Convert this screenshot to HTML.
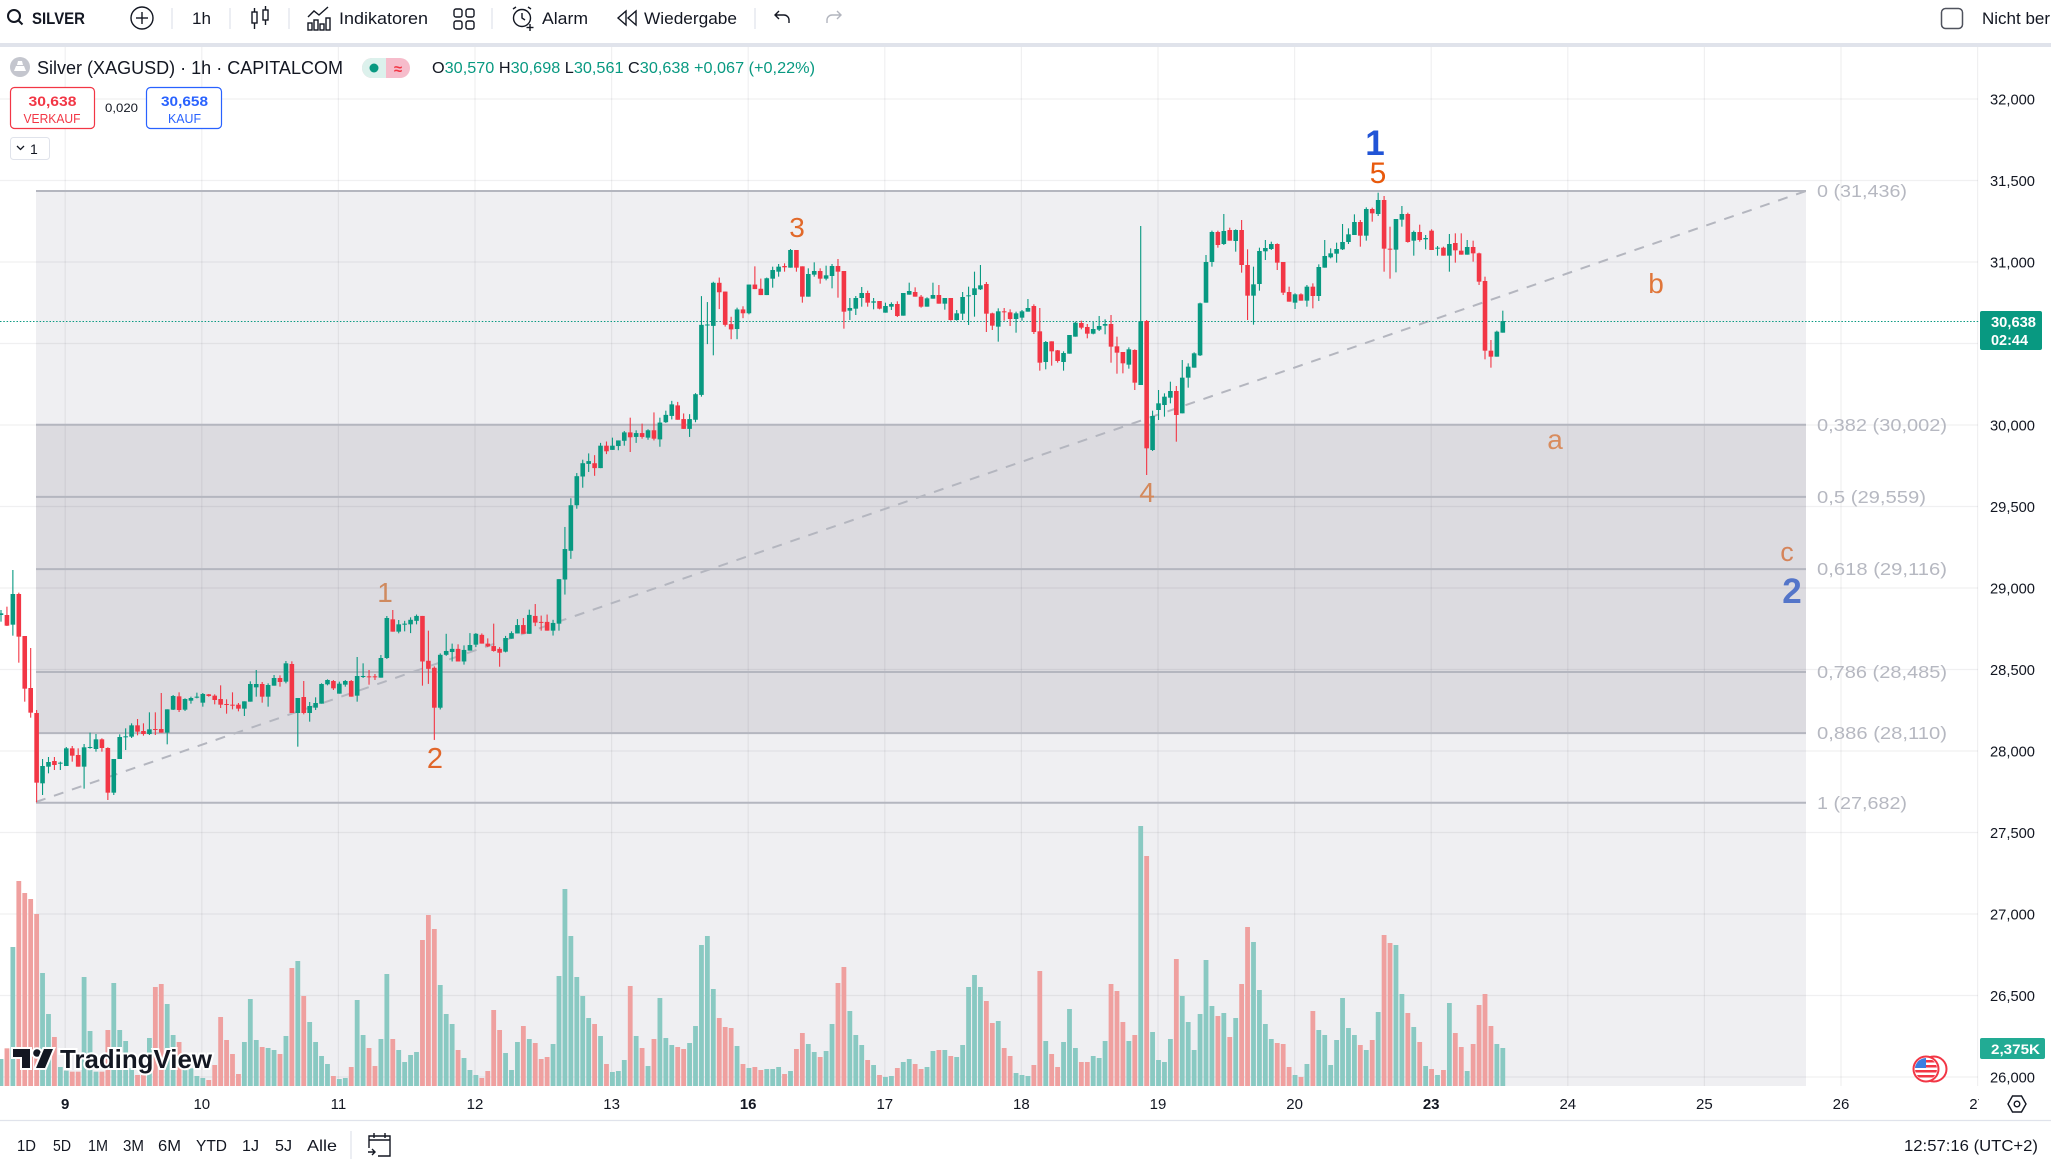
<!DOCTYPE html>
<html><head><meta charset="utf-8">
<style>
html,body{margin:0;padding:0;background:#fff;overflow:hidden;}
svg{display:block;font-family:"Liberation Sans",Arial,sans-serif;}
</style></head>
<body>
<svg id="c" width="2051" height="1161" viewBox="0 0 2051 1161" xmlns="http://www.w3.org/2000/svg">
<defs>
<clipPath id="plot"><rect x="0" y="47" width="1978" height="1039"/></clipPath>
<clipPath id="flagc"><circle cx="1926" cy="1069" r="11"/></clipPath>
<clipPath id="taxis"><rect x="0" y="1086" width="1979" height="34"/></clipPath>
</defs>
<rect width="2051" height="1161" fill="#fff"/>

<!-- top toolbar -->
<rect x="0" y="43" width="2051" height="4" fill="#e0e3eb"/>
<g fill="none" stroke="#131722" stroke-width="2">
<circle cx="14" cy="16" r="6"/><line x1="18.5" y1="20.5" x2="22.5" y2="24.5"/>
</g>
<text x="32" y="24" font-size="17" font-weight="bold" fill="#131722" textLength="53" lengthAdjust="spacingAndGlyphs">SILVER</text>
<g fill="none" stroke="#131722" stroke-width="1.4">
<circle cx="142" cy="18" r="11"/><line x1="142" y1="12" x2="142" y2="24"/><line x1="136" y1="18" x2="148" y2="18"/>
</g>
<g stroke="#e0e3eb" stroke-width="1.2">
<line x1="172" y1="8" x2="172" y2="29"/><line x1="230" y1="8" x2="230" y2="29"/><line x1="289" y1="8" x2="289" y2="29"/><line x1="492" y1="8" x2="492" y2="29"/><line x1="755" y1="8" x2="755" y2="29"/>
</g>
<text x="192" y="24" font-size="17" fill="#131722" textLength="19" lengthAdjust="spacingAndGlyphs">1h</text>
<g fill="none" stroke="#131722" stroke-width="1.4">
<rect x="252" y="12" width="5" height="11"/><line x1="254.5" y1="8" x2="254.5" y2="12"/><line x1="254.5" y1="23" x2="254.5" y2="29"/>
<rect x="263" y="10" width="5" height="10"/><line x1="265.5" y1="6" x2="265.5" y2="10"/><line x1="265.5" y1="20" x2="265.5" y2="25"/>
<polyline points="308,17 314,11 319,15 328,7"/>
<rect x="308" y="23" width="4" height="7"/><rect x="314" y="20" width="4" height="10"/><rect x="320" y="24" width="4" height="6"/><rect x="326" y="18" width="4" height="12"/>
<rect x="454" y="9" width="8" height="8" rx="2"/><rect x="466" y="9" width="8" height="8" rx="2"/><rect x="454" y="21" width="8" height="8" rx="2"/><rect x="466" y="21" width="8" height="8" rx="2"/>
<circle cx="522" cy="18" r="8.5"/><polyline points="522,13 522,18 525,20"/><line x1="513" y1="9" x2="516" y2="7"/><line x1="531" y1="9" x2="528" y2="7"/><line x1="530" y1="24" x2="530" y2="31"/><line x1="526.5" y1="27.5" x2="533.5" y2="27.5"/>
<path d="M626 11 L618 18 L626 25 Z M636 11 L628 18 L636 25 Z"/>
<path d="M779 11 l-4 4 l4 4 M775 15 h9 a5 5 0 0 1 5 5 v3"/>
</g>
<g fill="none" stroke="#b2b5be" stroke-width="1.4"><path d="M837 11 l4 4 l-4 4 M841 15 h-9 a5 5 0 0 0 -5 5 v3"/></g>
<text x="339" y="24" font-size="17" fill="#131722" textLength="89" lengthAdjust="spacingAndGlyphs">Indikatoren</text>
<text x="542" y="24" font-size="17" fill="#131722" textLength="46" lengthAdjust="spacingAndGlyphs">Alarm</text>
<text x="644" y="24" font-size="17" fill="#131722" textLength="93" lengthAdjust="spacingAndGlyphs">Wiedergabe</text>
<rect x="1941.5" y="8.5" width="21" height="20" rx="4" fill="none" stroke="#50535e" stroke-width="1.5"/>
<text x="1982" y="24" font-size="17" fill="#131722">Nicht ber</text>

<!-- fib fills -->
<rect x="36" y="191" width="1770" height="895" fill="#efeff2"/>
<rect x="36" y="424.7" width="1770" height="308.4" fill="#dcdbe0"/>

<!-- grid -->
<g stroke="rgba(42,46,57,0.07)" stroke-width="1.2">
<line x1="0" y1="99" x2="1978" y2="99"/><line x1="0" y1="180.5" x2="1978" y2="180.5"/><line x1="0" y1="262" x2="1978" y2="262"/><line x1="0" y1="343.5" x2="1978" y2="343.5"/><line x1="0" y1="425" x2="1978" y2="425"/><line x1="0" y1="506.5" x2="1978" y2="506.5"/><line x1="0" y1="588" x2="1978" y2="588"/><line x1="0" y1="669.5" x2="1978" y2="669.5"/><line x1="0" y1="751" x2="1978" y2="751"/><line x1="0" y1="832.5" x2="1978" y2="832.5"/><line x1="0" y1="914" x2="1978" y2="914"/><line x1="0" y1="995.5" x2="1978" y2="995.5"/><line x1="0" y1="1077" x2="1978" y2="1077"/>
<line x1="65.2" y1="47" x2="65.2" y2="1086"/><line x1="201.8" y1="47" x2="201.8" y2="1086"/><line x1="338.4" y1="47" x2="338.4" y2="1086"/><line x1="475" y1="47" x2="475" y2="1086"/><line x1="611.6" y1="47" x2="611.6" y2="1086"/><line x1="748.2" y1="47" x2="748.2" y2="1086"/><line x1="884.8" y1="47" x2="884.8" y2="1086"/><line x1="1021.4" y1="47" x2="1021.4" y2="1086"/><line x1="1158" y1="47" x2="1158" y2="1086"/><line x1="1294.6" y1="47" x2="1294.6" y2="1086"/><line x1="1431.2" y1="47" x2="1431.2" y2="1086"/><line x1="1567.8" y1="47" x2="1567.8" y2="1086"/><line x1="1704.4" y1="47" x2="1704.4" y2="1086"/><line x1="1841" y1="47" x2="1841" y2="1086"/><line x1="1977.6" y1="47" x2="1977.6" y2="1086"/>
</g>

<!-- fib lines -->
<g stroke="#b4b6bf" stroke-width="2">
<line x1="36" y1="191" x2="1806" y2="191"/>
<line x1="36" y1="424.7" x2="1806" y2="424.7"/>
<line x1="36" y1="496.9" x2="1806" y2="496.9"/>
<line x1="36" y1="569.1" x2="1806" y2="569.1"/>
<line x1="36" y1="672" x2="1806" y2="672"/>
<line x1="36" y1="733.1" x2="1806" y2="733.1"/>
<line x1="36" y1="802.8" x2="1806" y2="802.8"/>
</g>
<line x1="36" y1="802" x2="1806" y2="191" stroke="#b4b6bf" stroke-width="2" stroke-dasharray="10 9"/>
<g font-size="17.5" fill="#b6b8c1">
<text x="1817" y="197" textLength="90" lengthAdjust="spacingAndGlyphs">0 (31,436)</text>
<text x="1817" y="431" textLength="130" lengthAdjust="spacingAndGlyphs">0,382 (30,002)</text>
<text x="1817" y="503" textLength="109" lengthAdjust="spacingAndGlyphs">0,5 (29,559)</text>
<text x="1817" y="575" textLength="130" lengthAdjust="spacingAndGlyphs">0,618 (29,116)</text>
<text x="1817" y="678" textLength="130" lengthAdjust="spacingAndGlyphs">0,786 (28,485)</text>
<text x="1817" y="739" textLength="130" lengthAdjust="spacingAndGlyphs">0,886 (28,110)</text>
<text x="1817" y="809" textLength="90" lengthAdjust="spacingAndGlyphs">1 (27,682)</text>
</g>

<!-- current price line -->
<line x1="0" y1="321.5" x2="1980" y2="321.5" stroke="#089981" stroke-width="1" stroke-dasharray="1.5 1.8"/>

<g id="vol" clip-path="url(#plot)"></g>
<g id="cdl" clip-path="url(#plot)"></g>

<!-- wave labels -->
<g font-size="28" text-anchor="middle">
<text x="385" y="602" fill="#cf8a5f">1</text>
<text x="435" y="768" font-size="29" fill="#e1662a">2</text>
<text x="797" y="237" fill="#e2692a">3</text>
<text x="1147" y="502" fill="#d4895c">4</text>
<text x="1378" y="183" font-size="30" fill="#e8590c">5</text>
<text x="1375" y="155" font-size="35" font-weight="bold" fill="#2154d6">1</text>
<text x="1555" y="449" fill="#d88c5e">a</text>
<text x="1656" y="293" fill="#e0763a">b</text>
<text x="1787" y="561" font-size="27" fill="#d5845a">c</text>
<text x="1792" y="603" font-size="35" font-weight="bold" fill="#5475c9">2</text>
</g>

<!-- header -->
<circle cx="20" cy="67" r="10" fill="#c4c6ce"/>
<path d="M14 71 h12 l-2 -5 h-8 z M17 65 h6 l-1 -4 h-4 z" fill="#fff"/>
<text x="37" y="74" font-size="18" fill="#131722" textLength="306" lengthAdjust="spacingAndGlyphs">Silver (XAGUSD) · 1h · CAPITALCOM</text>
<rect x="362" y="58" width="48" height="20" rx="10" fill="#f6bccb"/>
<path d="M386 58 H372 A10 10 0 0 0 372 78 H386 Z" fill="#dcf1ec"/>
<circle cx="374" cy="68" r="4.5" fill="#089981"/>
<text x="398" y="74" font-size="15" font-weight="bold" fill="#f23645" text-anchor="middle">≈</text>
<text x="432" y="73" font-size="16" fill="#089981" textLength="383" lengthAdjust="spacingAndGlyphs"><tspan fill="#131722">O</tspan>30,570 <tspan fill="#131722">H</tspan>30,698 <tspan fill="#131722">L</tspan>30,561 <tspan fill="#131722">C</tspan>30,638 +0,067 (+0,22%)</text>

<rect x="10.5" y="87.5" width="84" height="41" rx="4" fill="#fff" stroke="#f23645" stroke-width="1.2"/>
<text x="52.5" y="106" font-size="14" font-weight="bold" fill="#f23645" text-anchor="middle" textLength="48" lengthAdjust="spacingAndGlyphs">30,638</text>
<text x="52" y="123" font-size="13" fill="#f23645" text-anchor="middle" textLength="57" lengthAdjust="spacingAndGlyphs">VERKAUF</text>
<text x="105" y="112" font-size="12" fill="#131722" textLength="33" lengthAdjust="spacingAndGlyphs">0,020</text>
<rect x="146.5" y="87.5" width="75" height="41" rx="4" fill="#fff" stroke="#2962ff" stroke-width="1.2"/>
<text x="184.5" y="106" font-size="14" font-weight="bold" fill="#2962ff" text-anchor="middle" textLength="47" lengthAdjust="spacingAndGlyphs">30,658</text>
<text x="184.5" y="123" font-size="13" fill="#2962ff" text-anchor="middle" textLength="33" lengthAdjust="spacingAndGlyphs">KAUF</text>
<rect x="10.5" y="137.5" width="39" height="22" rx="3" fill="#fff" stroke="#e0e3eb"/>
<path d="M17 146 l3.5 3.5 l3.5 -3.5" fill="none" stroke="#131722" stroke-width="1.3"/>
<text x="30" y="154" font-size="14" fill="#131722">1</text>

<!-- TradingView logo -->
<g stroke="#fff" stroke-width="4" paint-order="stroke" fill="#131722">
<path d="M13 1049h17v19h-8v-11h-9z"/>
<circle cx="37" cy="1053" r="3.8"/>
<path d="M44 1049h9l-8 19h-9z"/>
<text x="60" y="1068" font-size="26" font-weight="bold" textLength="152" lengthAdjust="spacingAndGlyphs">TradingView</text>
</g>

<!-- price axis -->
<g font-size="15" fill="#131722">
<text x="1990" y="104.5" textLength="45" lengthAdjust="spacingAndGlyphs">32,000</text>
<text x="1990" y="186" textLength="45" lengthAdjust="spacingAndGlyphs">31,500</text>
<text x="1990" y="267.5" textLength="45" lengthAdjust="spacingAndGlyphs">31,000</text>
<text x="1990" y="430.5" textLength="45" lengthAdjust="spacingAndGlyphs">30,000</text>
<text x="1990" y="512" textLength="45" lengthAdjust="spacingAndGlyphs">29,500</text>
<text x="1990" y="593.5" textLength="45" lengthAdjust="spacingAndGlyphs">29,000</text>
<text x="1990" y="675" textLength="45" lengthAdjust="spacingAndGlyphs">28,500</text>
<text x="1990" y="756.5" textLength="45" lengthAdjust="spacingAndGlyphs">28,000</text>
<text x="1990" y="838" textLength="45" lengthAdjust="spacingAndGlyphs">27,500</text>
<text x="1990" y="919.5" textLength="45" lengthAdjust="spacingAndGlyphs">27,000</text>
<text x="1990" y="1001" textLength="45" lengthAdjust="spacingAndGlyphs">26,500</text>
<text x="1990" y="1082.5" textLength="45" lengthAdjust="spacingAndGlyphs">26,000</text>
</g>
<rect x="1980" y="311" width="62" height="39" rx="2" fill="#089981"/>
<text x="1991" y="327" font-size="14.5" font-weight="bold" fill="#fff" textLength="45" lengthAdjust="spacingAndGlyphs">30,638</text>
<text x="1991" y="345" font-size="14.5" font-weight="bold" fill="#fff" textLength="37" lengthAdjust="spacingAndGlyphs">02:44</text>
<rect x="1980" y="1038" width="65" height="21" rx="2" fill="#22ab94"/>
<text x="1991" y="1054" font-size="14" font-weight="bold" fill="#fff" textLength="49" lengthAdjust="spacingAndGlyphs">2,375K</text>

<!-- flag -->
<circle cx="1934" cy="1069" r="12.5" fill="#fff" stroke="#f23645" stroke-width="2"/>
<circle cx="1926" cy="1069" r="12.5" fill="#fff" stroke="#f23645" stroke-width="2"/>
<g clip-path="url(#flagc)">
<rect x="1914" y="1057" width="24" height="24" fill="#fff"/>
<rect x="1914" y="1060" width="24" height="2.5" fill="#f23645"/>
<rect x="1914" y="1065" width="24" height="2.5" fill="#f23645"/>
<rect x="1914" y="1070" width="24" height="2.5" fill="#f23645"/>
<rect x="1914" y="1075" width="24" height="2.5" fill="#f23645"/>
<rect x="1914" y="1057" width="12" height="11" fill="#3b7de0"/>
</g>

<!-- time axis -->
<g font-size="15" fill="#131722" text-anchor="middle" clip-path="url(#taxis)">
<text x="65.2" y="1109" font-weight="bold">9</text>
<text x="201.8" y="1109">10</text>
<text x="338.4" y="1109">11</text>
<text x="475" y="1109">12</text>
<text x="611.6" y="1109">13</text>
<text x="748.2" y="1109" font-weight="bold">16</text>
<text x="884.8" y="1109">17</text>
<text x="1021.4" y="1109">18</text>
<text x="1158" y="1109">19</text>
<text x="1294.6" y="1109">20</text>
<text x="1431.2" y="1109" font-weight="bold">23</text>
<text x="1567.8" y="1109">24</text>
<text x="1704.4" y="1109">25</text>
<text x="1841" y="1109">26</text>
<text x="1977.6" y="1109">27</text>
</g>
<path d="M2008 1104 l4.5 -8 h9 l4.5 8 l-4.5 8 h-9 z" fill="none" stroke="#131722" stroke-width="1.4"/>
<circle cx="2017" cy="1104" r="2.8" fill="none" stroke="#131722" stroke-width="1.4"/>
<line x1="0" y1="1120.5" x2="2051" y2="1120.5" stroke="#e0e3eb" stroke-width="1.2"/>

<!-- bottom toolbar -->
<g font-size="16" fill="#131722">
<text x="17" y="1151" textLength="19" lengthAdjust="spacingAndGlyphs">1D</text>
<text x="53" y="1151" textLength="18" lengthAdjust="spacingAndGlyphs">5D</text>
<text x="88" y="1151" textLength="20" lengthAdjust="spacingAndGlyphs">1M</text>
<text x="123" y="1151" textLength="21" lengthAdjust="spacingAndGlyphs">3M</text>
<text x="158" y="1151" textLength="23" lengthAdjust="spacingAndGlyphs">6M</text>
<text x="196" y="1151" textLength="31" lengthAdjust="spacingAndGlyphs">YTD</text>
<text x="242" y="1151" textLength="17" lengthAdjust="spacingAndGlyphs">1J</text>
<text x="275" y="1151" textLength="17" lengthAdjust="spacingAndGlyphs">5J</text>
<text x="307" y="1151" textLength="30" lengthAdjust="spacingAndGlyphs">Alle</text>
<text x="1904" y="1151" textLength="134" lengthAdjust="spacingAndGlyphs">12:57:16 (UTC+2)</text>
</g>
<line x1="351" y1="1131" x2="351" y2="1159" stroke="#e0e3eb" stroke-width="1.2"/>
<g fill="none" stroke="#131722" stroke-width="1.4">
<path d="M369 1148 v-12 h21 v20 h-12"/><line x1="369" y1="1140" x2="390" y2="1140"/>
<line x1="374" y1="1133" x2="374" y2="1138"/><line x1="385" y1="1133" x2="385" y2="1138"/>
<path d="M368 1152 h7 M372 1149 l3 3 l-3 3"/>
</g>
</svg>
<script>
(function(){
var S=5.936,X0=1;
var A=[[1,220,225,210,245],[0,225,257,200,258],[1,162,254,90,287],[0,162,290,158,368],[0,288,446,288,485],[0,444,518,324,533],[0,519,728,510,787],[1,678,730,657,765],[1,666,680,651,700],[0,663,675,651,690],[1,668,670,665,690],[1,625,678,621,678],[0,625,647,618,665],[0,645,680,625,680],[1,622,680,612,746],[1,621,624,578,626],[1,598,627,582,635],[0,598,624,595,635],[0,624,758,622,780],[1,657,758,657,765],[1,591,657,583,657],[1,589,590,565,630],[1,556,590,550,594],[0,556,575,537,586],[0,573,582,550,587],[1,568,582,517,585],[0,567,569,517,585],[0,567,578,459,578],[1,508,578,508,613],[1,468,509,465,510],[0,469,510,457,516],[1,477,509,475,513],[1,474,482,470,491],[1,470,472,458,475],[1,462,488,459,500],[0,463,468,462,470],[0,467,480,463,493],[0,477,494,436,504],[0,492,494,478,521],[0,494,496,457,508],[0,494,506,489,514],[1,484,506,484,528],[1,432,485,424,485],[1,432,442,390,470],[0,432,470,426,488],[1,435,470,430,500],[1,414,437,405,437],[0,414,426,406,440],[1,370,425,363,430],[0,372,519,364,519],[1,474,519,474,620],[0,471,519,423,523],[1,498,519,486,545],[1,489,503,472,510],[1,432,491,430,491],[1,420,433,418,436],[0,423,445,420,450],[1,431,461,425,461],[1,423,434,420,440],[0,423,470,420,470],[1,408,467,351,485],[1,408,411,370,414],[0,409,411,390,434],[0,409,411,402,420],[1,354,413,345,413],[1,234,354,228,357],[0,238,275,210,275],[1,253,275,240,280]];
var B=[[1,1148,1151,1140,1170],[1,1137,1150,1130,1175],[1,1126,1140,1122,1150],[0,1126,1256,1126,1325],[0,1254,1277,1168,1320],[0,1274,1388,1270,1480],[1,1237,1388,1233,1393],[1,1226,1237,1177,1240],[1,1220,1229,1205,1256],[0,1220,1256,1207,1256],[1,1223,1256,1210,1265],[1,1209,1225,1175,1225],[1,1177,1208,1175,1215],[0,1180,1205,1176,1205],[0,1205,1213,1190,1215],[0,1212,1226,1148,1228],[0,1220,1231,1215,1271],[1,1189,1228,1183,1230],[1,1175,1191,1170,1191],[1,1152,1176,1135,1176],[0,1152,1177,1132,1177],[1,1123,1177,1108,1177],[0,1126,1145,1092,1155],[0,1143,1145,1125,1168],[0,1143,1168,1122,1168],[1,1146,1168,1137,1182],[1,1021,1148,1021,1168],[1,935,1022,872,1065],[1,810,940,790,963],[1,727,810,718,820],[1,690,728,680,760],[1,684,692,662,715],[0,690,704,667,726],[1,640,704,632,704],[0,640,656,628,664],[1,640,652,617,652],[1,625,641,625,653],[1,602,626,598,640],[0,602,616,560,658],[1,604,615,596,632],[0,604,615,577,620],[1,596,617,593,623],[0,596,620,545,625],[1,574,622,560,643],[1,552,573,540,575],[1,522,555,512,565],[0,525,566,515,566],[0,564,592,548,592],[1,564,592,550,615],[1,493,566,490,573],[1,295,495,213,500],[1,294,296,230,350],[1,175,298,172,382],[0,175,202,160,250],[0,200,295,200,300],[0,293,308,272,336],[1,251,307,246,336],[0,251,262,242,276],[1,180,262,180,265],[0,180,193,128,193],[0,192,210,163,210],[1,162,210,160,210]];
var C=[[1,300,326,290,353],[1,290,305,282,320],[0,288,292,280,305],[1,240,293,237,293],[0,240,293,240,305],[0,289,380,289,398],[1,312,380,295,380],[1,303,314,277,320],[0,303,326,295,341],[1,316,326,287,331],[1,288,318,282,355],[0,288,305,267,383],[0,303,425,303,476],[1,414,422,384,450],[1,384,416,378,435],[1,369,384,351,410],[0,369,398,362,410],[1,394,398,384,418],[0,393,416,393,418],[1,408,428,398,428],[1,402,410,397,420],[0,402,438,394,441],[1,369,437,369,437],[1,363,374,338,374],[0,366,380,352,380],[0,380,410,375,413],[1,385,410,382,410],[1,375,386,338,386],[0,375,401,345,401],[1,384,401,384,419],[0,384,450,384,452],[1,430,450,420,452],[1,381,431,366,450],[1,376,379,350,465],[1,355,375,305,440],[1,346,358,285,360],[0,342,431,336,486],[0,430,467,428,480],[1,424,470,415,515],[0,424,426,414,452],[0,427,447,418,468],[1,430,447,425,488],[1,424,443,420,452],[1,414,425,387,425],[0,408,486,403,492],[0,484,578,414,602],[1,516,576,513,598],[0,514,544,514,587],[0,541,573,540,578],[1,549,576,544,602],[1,495,551,495,551],[1,458,500,455,500],[0,459,473,452,478],[0,471,491,462,505],[1,477,491,456,493],[1,468,479,438,483],[1,462,467,448,493],[0,462,530,435,578],[0,529,548,500,611],[0,546,580,546,610],[1,538,584,532,596],[0,540,638,538,660]];
var D=[[1,603,795,318,795],[0,603,985,600,1065],[1,888,990,872,993],[1,850,870,810,900],[1,830,855,820,890],[1,813,833,785,850],[0,813,885,798,965],[1,773,880,720,880],[1,740,773,730,803],[1,700,743,697,743],[1,550,706,548,708],[1,426,548,405,548],[1,336,426,332,440],[0,336,375,332,383],[1,333,372,282,375],[0,330,362,323,362],[1,330,363,328,395],[0,330,435,300,458],[0,435,527,388,600],[1,493,527,440,614],[1,393,492,383,512],[1,384,394,360,420],[1,372,387,365,390],[0,372,428,370,450],[0,426,518,426,525],[0,516,545,500,545],[1,523,548,520,567],[0,523,542,520,542],[1,500,542,495,560],[0,500,528,490,565],[1,441,528,433,543],[1,408,443,360,443],[1,400,412,385,415],[1,387,401,368,428],[1,366,388,312,390],[1,343,366,325,372],[1,306,345,283,345],[0,306,347,300,380],[1,267,347,262,362],[0,267,280,263,305],[1,240,282,218,288],[0,240,386,228,455],[0,386,388,320,476],[1,297,389,297,457],[1,282,299,258,320],[0,282,366,278,368],[1,336,362,332,407],[0,336,360,314,365],[1,354,358,345,388],[0,332,390,328,390],[1,383,385,378,407],[0,383,407,380,407],[1,372,407,342,455],[0,369,391,340,428],[0,392,404,340,404],[1,381,404,360,404],[0,381,400,362,425],[0,400,485,398,495],[0,483,692,470,718],[0,692,710,660,743],[1,635,710,632,710],[1,603,638,572,638]];
var V=[732,700,396,198,234,252,297,474,597,666,756,767,770,770,486,648,770,770,645,504,645,678,760,780,780,669,516,507,567,660,681,760,760,783,789,795,750,606,675,717,777,681,552,675,696,699,705,717,663,459,438,543,621,681,723,747,783,792,789,756,555,660,699,753,672,477,672,705,741,720,711,375,300,342,510,597,627,705,729,765,780,789,768,585,645,714,
765,681,633,672,684,732,726,687,483,222,363,486,543,609,627,663,747,771,768,735,513,663,699,753,672,549,669,690,696,702,684,633,390,363,522,609,636,639,693,747,759,756,765,762,762,756,777,768,702,654,687,711,726,708,627,504,456,588,660,690,735,750,780,786,783,759,741,732,747,762,756,708,705,705,723,726,690,516,480,516,558,624,618,699,723,
774,780,783,750,468,678,717,756,681,582,699,741,741,723,729,678,507,528,621,678,660,33,123,651,735,741,672,432,543,621,705,597,435,573,603,594,666,609,507,336,381,525,627,672,684,687,756,780,786,747,588,645,660,750,675,549,639,660,690,705,675,591,360,384,390,537,594,636,681,753,762,780,765,564,654,696,768,687,570,537,633,687,699];
var NS='http://www.w3.org/2000/svg';
var all=[],i;
function seg(arr,f){for(var k=0;k<arr.length;k++){var d=arr[k];all.push([d[0],f(d[1]),f(d[2]),f(d[3]),f(d[4])]);}}
seg(A,function(v){return 540+v/3;});
seg(B,function(v){return 221.5+v*0.3503;});
seg(C,function(v){return 170+v/3;});
seg(D,function(v){return 120+v/3;});
var cg=document.getElementById('cdl'),vg=document.getElementById('vol');
function rect(g,x,y,w,h,fill){var r=document.createElementNS(NS,'rect');r.setAttribute('x',x.toFixed(2));r.setAttribute('y',y.toFixed(2));r.setAttribute('width',w.toFixed(2));r.setAttribute('height',h.toFixed(2));r.setAttribute('fill',fill);g.appendChild(r);}
for(i=0;i<all.length;i++){
 var d=all[i],cx=X0+i*S,col=d[0]?'#089981':'#f23645';
 var t=Math.min(d[1],d[2]),b=Math.max(d[1],d[2]),h=Math.max(1,b-t);
 var wt=Math.min(d[3],t),wb=Math.max(d[4],b);
 rect(cg,cx-0.55,wt,1.1,wb-wt,col);
 rect(cg,cx-2.3,t,4.6,h,col);
 if(i<V.length){var vy=815+V[i]/3;
 rect(vg,cx-2.4,vy,4.8,1086-vy,d[0]?'#89c9c2':'#efa09f');}
}
})();
</script>
</body></html>
